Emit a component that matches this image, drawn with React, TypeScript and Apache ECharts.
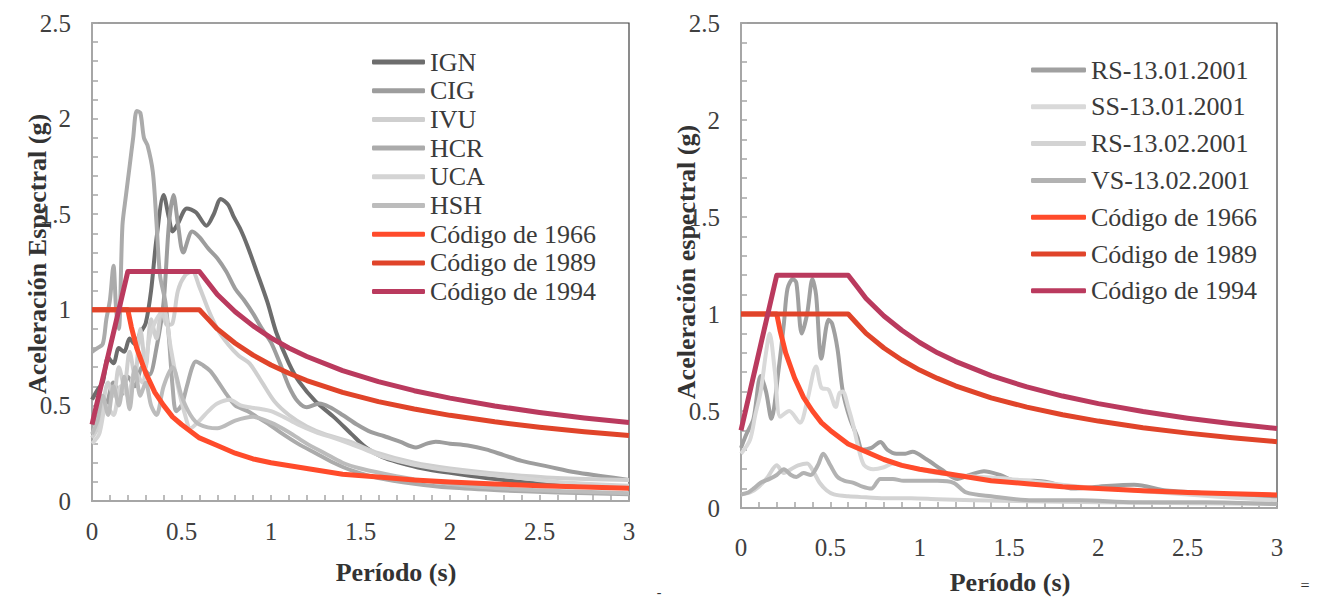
import React, { useEffect, useRef } from "react";
import * as echarts from "echarts";

// ---------- Left chart records (period s, acceleration g) ----------
const ignT = [0, 0.03, 0.06, 0.09, 0.12, 0.15, 0.18, 0.21, 0.24, 0.27, 0.3, 0.33, 0.36, 0.4, 0.43, 0.45, 0.48, 0.53, 0.58, 0.64, 0.68, 0.72, 0.76, 0.79, 0.83, 0.87, 0.92, 0.98, 1.03, 1.1, 1.16, 1.25, 1.35, 1.45, 1.53, 1.62, 1.72, 1.85, 2.0, 2.2, 2.4, 2.6, 2.8, 3.0];
const ignV = [0.53, 0.58, 0.62, 0.75, 0.72, 0.8, 0.78, 0.85, 0.82, 0.88, 0.93, 1.1, 1.37, 1.6, 1.48, 1.41, 1.45, 1.53, 1.51, 1.44, 1.5, 1.58, 1.55, 1.49, 1.42, 1.33, 1.2, 1.04, 0.88, 0.72, 0.62, 0.52, 0.44, 0.35, 0.28, 0.23, 0.2, 0.17, 0.147, 0.12, 0.1, 0.085, 0.075, 0.07];

const cigT = [0, 0.04, 0.08, 0.12, 0.16, 0.2, 0.24, 0.28, 0.32, 0.36, 0.4, 0.43, 0.455, 0.48, 0.51, 0.56, 0.6, 0.65, 0.7, 0.75, 0.8, 0.85, 0.9, 0.95, 1.0, 1.05, 1.1, 1.15, 1.2, 1.27, 1.33, 1.4, 1.48, 1.56, 1.63, 1.72, 1.81, 1.87, 1.92, 2.0, 2.1, 2.2, 2.3, 2.4, 2.55, 2.7, 2.85, 3.0];
const cigV = [0.4, 0.45, 0.5, 0.62, 0.55, 0.65, 0.6, 0.7, 0.66, 0.8, 1.04, 1.45, 1.6, 1.45, 1.3, 1.41, 1.38, 1.32, 1.27, 1.2, 1.11, 1.05, 0.98, 0.9, 0.83, 0.72, 0.6, 0.52, 0.49, 0.51, 0.49, 0.45, 0.4, 0.36, 0.34, 0.31, 0.28, 0.3, 0.31, 0.3, 0.29, 0.27, 0.24, 0.21, 0.18, 0.15, 0.13, 0.11];

const ivuT = [0, 0.03, 0.06, 0.09, 0.12, 0.15, 0.18, 0.21, 0.24, 0.27, 0.3, 0.33, 0.36, 0.39, 0.42, 0.45, 0.48, 0.52, 0.56, 0.6, 0.65, 0.7, 0.76, 0.82, 0.88, 0.95, 1.02, 1.1, 1.2, 1.3, 1.44, 1.6, 1.8, 2.0, 2.3, 2.6, 3.0];
const ivuV = [0.33, 0.38, 0.5, 0.62, 0.55, 0.7, 0.6, 0.78, 0.65, 0.9, 0.7, 0.95, 0.85, 1.0, 0.92, 0.93, 1.1, 1.18, 1.2, 1.12, 1.0, 0.9, 0.82, 0.76, 0.72, 0.62, 0.52, 0.45, 0.39, 0.35, 0.31, 0.25, 0.2, 0.17, 0.14, 0.12, 0.11];

const hcrT = [0, 0.03, 0.06, 0.08, 0.1, 0.12, 0.135, 0.15, 0.17, 0.19, 0.21, 0.23, 0.25, 0.27, 0.29, 0.31, 0.34, 0.36, 0.38, 0.41, 0.43, 0.45, 0.47, 0.5, 0.53, 0.56, 0.58, 0.62, 0.66, 0.7, 0.75, 0.8, 0.87, 0.92, 0.99, 1.05, 1.15, 1.25, 1.35, 1.45, 1.6, 1.8, 2.0, 2.3, 2.6, 3.0];
const hcrV = [0.78, 0.8, 0.82, 0.95, 1.05, 1.23, 1.0, 0.9, 1.44, 1.6, 1.75, 1.9, 2.04, 2.03, 1.9, 1.86, 1.72, 1.46, 1.18, 1.04, 0.85, 0.6, 0.47, 0.5, 0.6, 0.7, 0.73, 0.71, 0.68, 0.63, 0.56, 0.5, 0.47, 0.44, 0.4, 0.36, 0.3, 0.25, 0.2, 0.16, 0.12, 0.09, 0.07, 0.055, 0.045, 0.035];

const ucaT = [0, 0.04, 0.08, 0.12, 0.16, 0.2, 0.24, 0.28, 0.32, 0.36, 0.4, 0.44, 0.48, 0.52, 0.55, 0.6, 0.65, 0.7, 0.77, 0.83, 0.88, 0.95, 1.0, 1.07, 1.15, 1.25, 1.35, 1.44, 1.55, 1.63, 1.8, 2.0, 2.3, 2.6, 3.0];
const ucaV = [0.3, 0.35, 0.5, 0.45, 0.6, 0.55, 0.68, 0.62, 0.85, 0.95, 1.0, 0.8, 0.6, 0.45, 0.38, 0.42, 0.47, 0.51, 0.53, 0.5, 0.49, 0.48, 0.47, 0.44, 0.4, 0.36, 0.33, 0.3, 0.26, 0.23, 0.19, 0.16, 0.13, 0.1, 0.08];

const hshT = [0, 0.03, 0.06, 0.09, 0.12, 0.15, 0.18, 0.21, 0.24, 0.27, 0.3, 0.33, 0.36, 0.4, 0.45, 0.5, 0.55, 0.6, 0.7, 0.8, 0.9, 1.0, 1.1, 1.2, 1.3, 1.4, 1.5, 1.7, 1.9, 2.1, 2.4, 2.7, 3.0];
const hshV = [0.35, 0.42, 0.55, 0.45, 0.6, 0.5, 0.65, 0.48, 0.7, 0.55, 0.62, 0.5, 0.45, 0.6, 0.7, 0.55, 0.45, 0.4, 0.38, 0.42, 0.44, 0.41, 0.36, 0.3, 0.25, 0.2, 0.17, 0.13, 0.1, 0.08, 0.06, 0.05, 0.04];

// ---------- Right chart records ----------
const rs0101T = [0, 0.03, 0.07, 0.11, 0.14, 0.17, 0.21, 0.24, 0.26, 0.29, 0.31, 0.34, 0.37, 0.4, 0.42, 0.45, 0.49, 0.51, 0.54, 0.57, 0.61, 0.65, 0.68, 0.73, 0.78, 0.82, 0.87, 0.92, 0.96, 1.04, 1.12, 1.21, 1.28, 1.36, 1.45, 1.54, 1.64, 1.73, 1.86, 2.0, 2.2, 2.38, 2.55, 2.75, 3.0];
const rs0101V = [0.31, 0.38, 0.46, 0.68, 0.6, 0.46, 0.71, 0.95, 1.13, 1.18, 1.16, 0.9, 1.0, 1.18, 1.1, 0.77, 0.97, 0.95, 0.82, 0.6, 0.46, 0.37, 0.3, 0.31, 0.34, 0.3, 0.28, 0.28, 0.29, 0.25, 0.2, 0.15, 0.17, 0.19, 0.17, 0.14, 0.14, 0.13, 0.1, 0.11, 0.12, 0.09, 0.08, 0.06, 0.05];

const ss0101T = [0, 0.05, 0.08, 0.11, 0.14, 0.16, 0.19, 0.22, 0.27, 0.33, 0.37, 0.42, 0.45, 0.49, 0.53, 0.55, 0.57, 0.6, 0.63, 0.66, 0.69, 0.74, 0.8, 0.85, 0.9, 1.0, 1.1, 1.2, 1.35, 1.5, 1.7, 1.9, 2.2, 2.5, 2.8, 3.0];
const ss0101V = [0.28, 0.35, 0.48, 0.6, 0.8, 0.9, 0.7, 0.47, 0.5, 0.44, 0.55, 0.73, 0.62, 0.61, 0.52, 0.59, 0.6, 0.52, 0.42, 0.3, 0.22, 0.2, 0.21, 0.23, 0.22, 0.2, 0.18, 0.17, 0.16, 0.15, 0.13, 0.11, 0.09, 0.07, 0.05, 0.04];

const rs0213T = [0, 0.05, 0.1, 0.15, 0.2, 0.24, 0.28, 0.32, 0.37, 0.41, 0.44, 0.48, 0.52, 0.6, 0.7, 0.82, 0.95, 1.1, 1.3, 1.6, 2.0, 2.5, 3.0];
const rs0213V = [0.07, 0.08, 0.11, 0.16, 0.22, 0.18, 0.2, 0.22, 0.23, 0.18, 0.13, 0.09, 0.07, 0.06, 0.055, 0.05, 0.05, 0.045, 0.04, 0.035, 0.03, 0.025, 0.02];

const vs0213T = [0, 0.04, 0.07, 0.11, 0.16, 0.2, 0.24, 0.28, 0.31, 0.35, 0.39, 0.43, 0.46, 0.5, 0.54, 0.58, 0.63, 0.68, 0.73, 0.78, 0.85, 0.91, 1.0, 1.1, 1.19, 1.26, 1.4, 1.63, 1.9, 2.2, 2.6, 3.0];
const vs0213V = [0.07, 0.08, 0.1, 0.13, 0.15, 0.17, 0.2, 0.17, 0.16, 0.18, 0.17, 0.22, 0.28, 0.22, 0.16, 0.14, 0.13, 0.11, 0.1, 0.15, 0.15, 0.14, 0.14, 0.14, 0.13, 0.08, 0.06, 0.04, 0.04, 0.03, 0.03, 0.02];

// ---------- Design spectra (both charts) ----------
const c1966T = [0, 0.2, 0.22, 0.25, 0.3, 0.35, 0.4, 0.45, 0.5, 0.6, 0.7, 0.8, 0.9, 1.0, 1.2, 1.4, 1.6, 1.8, 2.0, 2.25, 2.5, 2.75, 3.0];
const c1966V = [1.0, 1.0, 0.91, 0.8, 0.67, 0.57, 0.5, 0.44, 0.4, 0.33, 0.29, 0.25, 0.22, 0.2, 0.17, 0.14, 0.125, 0.11, 0.1, 0.089, 0.08, 0.073, 0.067];
const c1989T = [0, 0.6, 0.65, 0.7, 0.8, 0.9, 1.0, 1.1, 1.2, 1.4, 1.6, 1.8, 2.0, 2.25, 2.5, 2.75, 3.0];
const c1989V = [1.0, 1.0, 0.95, 0.9, 0.825, 0.763, 0.711, 0.668, 0.63, 0.568, 0.52, 0.481, 0.448, 0.414, 0.386, 0.362, 0.342];
const c1994T = [0, 0.2, 0.6, 0.65, 0.7, 0.8, 0.9, 1.0, 1.1, 1.2, 1.4, 1.6, 1.8, 2.0, 2.25, 2.5, 2.75, 3.0];
const c1994V = [0.4, 1.2, 1.2, 1.14, 1.08, 0.99, 0.916, 0.853, 0.8, 0.756, 0.682, 0.624, 0.577, 0.538, 0.497, 0.463, 0.434, 0.41];

const leftNames = ["IGN", "CIG", "IVU", "HCR", "UCA", "HSH"];
const rightNames = ["RS-13.01.2001", "SS-13.01.2001", "RS-13.02.2001", "VS-13.02.2001"];
const codeNames = ["Código de 1966", "Código de 1989", "Código de 1994"];
const xTicks = [0, 0.5, 1, 1.5, 2, 2.5, 3];
const yTicks = [0, 0.5, 1, 1.5, 2, 2.5];

const FONT = "'Liberation Serif', 'Times New Roman', serif";

const zip = (t: number[], v: number[]) => t.map((x, i) => [x, v[i]]);

export default function App() {
  const ref = useRef<HTMLDivElement>(null);
  useEffect(() => {
    if (!ref.current) return;
    const chart = echarts.init(ref.current, undefined, { renderer: "svg" });

    const leftData = [zip(ignT, ignV), zip(cigT, cigV), zip(ivuT, ivuV), zip(hcrT, hcrV), zip(ucaT, ucaV), zip(hshT, hshV)];
    const leftColors = ["#6d6d6d", "#9d9d9d", "#cfcfcf", "#ababab", "#d4d4d4", "#bcbcbc"];
    const rightData = [zip(rs0101T, rs0101V), zip(ss0101T, ss0101V), zip(rs0213T, rs0213V), zip(vs0213T, vs0213V)];
    const rightColors = ["#a0a0a0", "#d9d9d9", "#d3d3d3", "#b2b2b2"];
    const codeData = [zip(c1966T, c1966V), zip(c1989T, c1989V), zip(c1994T, c1994V)];
    const codeColors = ["#ff4b2b", "#e0442a", "#ba3a5e"];

    const mk = (name: string, data: number[][], color: string, idx: number, width: number) => ({
      type: "line",
      name,
      data,
      xAxisIndex: idx,
      yAxisIndex: idx,
      showSymbol: false,
      symbol: "none",
      smooth: 0.3,
      color,
      itemStyle: { color },
      lineStyle: { color, width, join: "round" },
      emphasis: { disabled: true },
    });

    const series: any[] = [];
    leftNames.forEach((n, i) => series.push(mk(n, leftData[i], leftColors[i], 0, 4)));
    codeNames.forEach((n, i) => series.push({ ...mk(n, codeData[i], codeColors[i], 0, 5), smooth: false }));
    rightNames.forEach((n, i) => series.push(mk(n, rightData[i], rightColors[i], 1, 4)));
    codeNames.forEach((n, i) => series.push({ ...mk(n, codeData[i], codeColors[i], 1, 5), smooth: false }));

    const axisCommon = {
      type: "value",
      axisLine: { show: true, lineStyle: { color: "#a6a6a6", width: 2 } },
      axisTick: { show: true, inside: true, length: 6, lineStyle: { color: "#a6a6a6", width: 1.5 } },
      minorTick: { show: true, splitNumber: 5, length: 6, lineStyle: { color: "#a6a6a6", width: 1.5 } },
      splitLine: { show: false },
      minorSplitLine: { show: false },
    };
    const labelStyle = { fontFamily: FONT, fontSize: 25, color: "#404040" };
    const fmt = (v: number) => {
      const hit = xTicks.concat(yTicks).find((t) => Math.abs(t - v) < 1e-6);
      return hit === undefined ? "" : String(hit);
    };

    const xAxis = [0, 1].map((i) => ({
      ...axisCommon,
      gridIndex: i,
      min: 0,
      max: 3,
      interval: 0.5,
      axisLabel: { ...labelStyle, margin: i === 0 ? 18 : 27, formatter: fmt },
    }));
    const yAxis = [0, 1].map((i) => ({
      ...axisCommon,
      gridIndex: i,
      min: 0,
      max: 2.5,
      interval: 0.5,
      axisLabel: { ...labelStyle, margin: 21, formatter: fmt },
    }));

    const legendText = { fontFamily: FONT, fontSize: 26, color: "#3a3a3a" };

    chart.setOption({
      animation: false,
      backgroundColor: "#ffffff",
      grid: [
        { left: 92, top: 23, width: 537, height: 478, show: true, borderColor: "#404040", borderWidth: 1.2, backgroundColor: "transparent" },
        { left: 741, top: 23, width: 536, height: 485, show: true, borderColor: "#404040", borderWidth: 1.2, backgroundColor: "transparent" },
      ],
      xAxis,
      yAxis,
      legend: [
        {
          orient: "vertical",
          left: 372,
          top: 49,
          padding: 0,
          icon: "roundRect",
          itemWidth: 53,
          itemHeight: 5,
          itemGap: 2.7,
          selectedMode: false,
          data: [...leftNames, ...codeNames],
          textStyle: legendText,
        },
        {
          orient: "vertical",
          left: 1031,
          top: 57,
          padding: 0,
          icon: "roundRect",
          itemWidth: 55,
          itemHeight: 5,
          itemGap: 10.8,
          selectedMode: false,
          data: [...rightNames, ...codeNames],
          textStyle: legendText,
        },
      ],
      graphic: [
        { type: "text", x: 396, y: 572, style: { text: "Período (s)", font: `bold 26px ${FONT}`, fill: "#333", textAlign: "center", textVerticalAlign: "middle" } },
        { type: "text", x: 1010, y: 582, style: { text: "Período (s)", font: `bold 26px ${FONT}`, fill: "#333", textAlign: "center", textVerticalAlign: "middle" } },
        { type: "text", x: 37, y: 254, rotation: Math.PI / 2, style: { text: "Aceleración Espectral (g)", font: `bold 26px ${FONT}`, fill: "#333", textAlign: "center", textVerticalAlign: "middle" } },
        { type: "text", x: 686, y: 262, rotation: Math.PI / 2, style: { text: "Aceleración espectral (g)", font: `bold 26px ${FONT}`, fill: "#333", textAlign: "center", textVerticalAlign: "middle" } },
        { type: "text", x: 659, y: 592, style: { text: "-", font: `14px ${FONT}`, fill: "#333", textAlign: "center", textVerticalAlign: "middle" } },
        { type: "text", x: 1305, y: 585, style: { text: "=", font: `16px ${FONT}`, fill: "#333", textAlign: "center", textVerticalAlign: "middle" } },
      ],
      series,
    });
    return () => chart.dispose();
  }, []);
  return <div ref={ref} style={{ position: "fixed", left: 0, top: 0, width: 1319, height: 599, background: "#fff" }} />;
}
